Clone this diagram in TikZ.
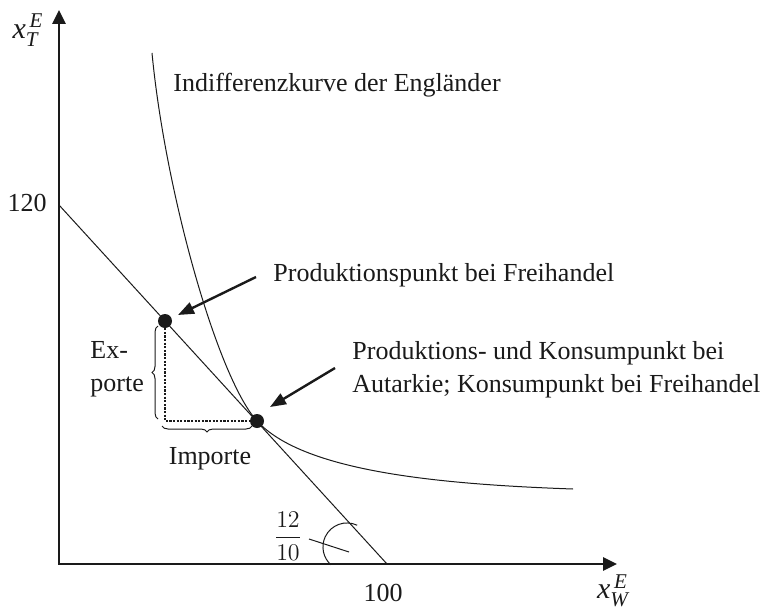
\documentclass[tikz,border=0pt]{standalone}
\usepackage{fontspec}
\setmainfont{Liberation Serif}
\usepackage{amsmath}
\usetikzlibrary{arrows.meta,decorations.pathreplacing}
\definecolor{inkc}{HTML}{1A1A1A}

\begin{document}
\begin{tikzpicture}[x=0.5pt,y=-0.5pt,
  font=\fontsize{13}{16.5}\selectfont,
  axis/.style={line width=1.3pt, inkc, line join=miter,
    {Triangle[length=7pt,width=6.5pt]}-{Triangle[length=7pt,width=6.5pt]}},
  thinline/.style={line width=0.5pt, inkc},
  pointer/.style={line width=1.2pt, inkc, -{Triangle[length=8pt,width=6pt]}},
  dotpt/.style={circle, fill=inkc, inner sep=0pt, minimum size=7pt},
  lab/.style={inner sep=0pt, text=inkc},
  brc/.style={decorate, decoration={brace, amplitude=3pt}, thinline}]
  \useasboundingbox (0,0) rectangle (765,610);
  \coordinate (O) at (59,564);
  \coordinate (ytop) at (59,10);
  \coordinate (xend) at (617,564);
  \coordinate (b120) at (59,205);
  \coordinate (b100) at (387,564);
  \coordinate (corner) at (165,421);
  \node[dotpt] (prod) at (165,321) {};
  \node[dotpt] (cons) at (257,421) {};

  \draw[axis] (ytop) -- (O) -- (xend);
  \draw[thinline] (b120) -- (b100);
  % indifference curve
  \draw[thinline] (152,53) .. controls (165,190) and (217,377) .. (cons.center)
    .. controls (302,470) and (430,484) .. (573,489);
  \draw[inkc, line width=1.4pt, dash pattern=on 1.1pt off 0.7pt] (prod.center) -- (corner) -- (cons.center);
  \draw[brc] (158,419) -- (158,326);
  \draw[brc] (252,426) -- (162,426);

  \node[lab] (xt) at (28,30) {\fontsize{15}{15}\selectfont$\mathit{x}_{\mathit{T}}^{\,\mathit{E}}$};
  \node[lab] (xw) at (613,591) {\fontsize{15}{15}\selectfont$\mathit{x}_{\mathit{W}}^{\,\mathit{E}}$};
  \node[lab, anchor=east] (l120) at (47,203) {120};
  \node[lab] (l100) at (383,593) {100};
  \node[lab, anchor=west] (iklab) at (173,85) {Indifferenzkurve der Engländer};
  \node[lab, anchor=west] (pflab) at (273,275) {Produktionspunkt bei Freihandel};
  \node[lab, anchor=west, align=left] (aklab) at (352,370)
    {Produktions- und Konsumpunkt bei\\Autarkie; Konsumpunkt bei Freihandel};
  \node[lab, anchor=west, align=left] (exlab) at (90,369) {Ex-\\porte};
  \node[lab] (imlab) at (210,459) {Importe};
  \node[lab] (frac) at (288,536) {$\dfrac{12}{10}$};

  \coordinate (p1) at (256,277);
  \coordinate (p1e) at (178,315);
  \coordinate (p2) at (335,368);
  \coordinate (p2e) at (270,407);
  \draw[pointer] (p1) -- (p1e);
  \draw[pointer] (p2) -- (p2e);

  % angle mark
  \coordinate (t1) at (309,539);
  \coordinate (t2) at (349,552);
  \draw[thinline] (t1) -- (t2);
  \draw[thinline] (357.1,525.2) arc[start angle=-65, end angle=-228, radius=24];
\end{tikzpicture}
\end{document}
